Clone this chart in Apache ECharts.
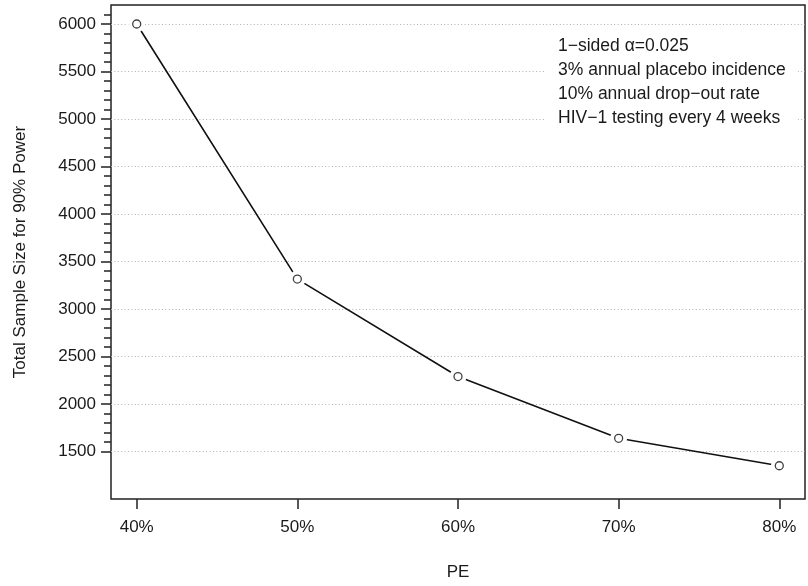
<!DOCTYPE html>
<html>
<head>
<meta charset="utf-8">
<script src="https://cdn.jsdelivr.net/npm/echarts@6/dist/echarts.min.js"></script>
<style>
html,body{margin:0;padding:0;background:#fff;}
#chart{width:808px;height:586px;}
</style>
</head>
<body>
<div id="chart"></div>
<script>
// ---- data ----
const peValues = [40, 50, 60, 70, 80];
const peLabels = ['40%', '50%', '60%', '70%', '80%'];
const sampleSize = [6000, 3315, 2289, 1639, 1350];
const yMajorTicks = [1500, 2000, 2500, 3000, 3500, 4000, 4500, 5000, 5500, 6000];
const yMinorTicks = [];
for (let v = 1500; v <= 6100; v += 100) yMinorTicks.push(v);
const noteLines = [
  '1\u2212sided \u03b1=0.025',
  '3% annual placebo incidence',
  '10% annual drop\u2212out rate',
  'HIV\u22121 testing every 4 weeks'
];
const xTitle = 'PE';
const yTitle = 'Total Sample Size for 90% Power';

const points = peValues.map((x, i) => [x, sampleSize[i]]);
const FONT = 'Liberation Sans, Arial, Helvetica, sans-serif';
const TXT = '#1a1a1a';

const chart = echarts.init(document.getElementById('chart'), null, {renderer: 'canvas'});
chart.setOption({
  animation: false,
  backgroundColor: '#fff',
  title: {
    text: noteLines.join('\n'),
    left: 546,
    top: 28,
    padding: [6, 12, 8, 12],
    backgroundColor: '#fff',
    textStyle: {fontFamily: FONT, fontSize: 17.5, fontWeight: 'normal', color: TXT, lineHeight: 24}
  },
  grid: {
    left: 111, top: 5, width: 694, height: 495,
    show: true, borderColor: '#222', borderWidth: 1.5, backgroundColor: 'transparent'
  },
  xAxis: {
    type: 'value', min: 38.4, max: 81.6,
    axisLine: {show: false},
    axisTick: {show: true, customValues: peValues, length: 10, lineStyle: {color: '#222', width: 1.5}},
    axisLabel: {customValues: peValues, formatter: v => peLabels[peValues.indexOf(v)],
      margin: 20, fontFamily: FONT, fontSize: 17, color: TXT},
    splitLine: {show: false},
    name: xTitle, nameLocation: 'middle', nameGap: 65,
    nameTextStyle: {fontFamily: FONT, fontSize: 17, color: TXT}
  },
  yAxis: [{
    type: 'value', min: 1000, max: 6200, interval: 500,
    axisLine: {show: false},
    axisTick: {show: true, customValues: yMajorTicks, length: 10, lineStyle: {color: '#222', width: 1.5}},
    axisLabel: {customValues: yMajorTicks, formatter: v => String(v), margin: 15,
      fontFamily: FONT, fontSize: 17, color: TXT},
    splitLine: {show: true, lineStyle: {color: '#b0b0b0', width: 1, type: [1, 2.4]}},
    name: yTitle, nameLocation: 'middle', nameGap: 82, nameRotate: 90,
    nameTextStyle: {fontFamily: FONT, fontSize: 17, color: TXT}
  }, {
    type: 'value', min: 1000, max: 6200, interval: 100, position: 'left',
    axisLine: {show: false},
    axisTick: {show: true, customValues: yMinorTicks, length: 7, lineStyle: {color: '#222', width: 1.5}},
    axisLabel: {show: false},
    splitLine: {show: false}
  }],
  series: [{
    type: 'line',
    data: points,
    xAxisIndex: 0, yAxisIndex: 0,
    symbol: 'circle', symbolSize: 17,
    itemStyle: {color: '#fff', borderWidth: 0},
    lineStyle: {color: '#111', width: 1.6},
    z: 2
  }, {
    type: 'scatter',
    data: points,
    xAxisIndex: 0, yAxisIndex: 0,
    symbol: 'circle', symbolSize: 8,
    itemStyle: {color: '#fff', borderColor: '#111', borderWidth: 1.3},
    z: 3
  }]
});
</script>
</body>
</html>
